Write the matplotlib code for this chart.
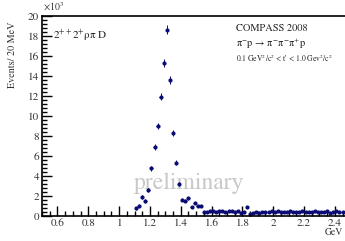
import matplotlib
matplotlib.use("Agg")
import matplotlib.pyplot as plt
from matplotlib.ticker import MultipleLocator

plt.rcParams['font.family'] = ['STIXGeneral', 'DejaVu Serif']
plt.rcParams['mathtext.fontset'] = 'stix'

# bin centres (GeV) and counts (x10^3 events / 20 MeV)
mass_peak = [1.11, 1.13, 1.15, 1.17, 1.19, 1.21, 1.23, 1.25, 1.27, 1.29, 1.31,
             1.33, 1.35, 1.37, 1.39, 1.41, 1.43, 1.45, 1.47, 1.49, 1.51, 1.53, 1.55]
counts_peak = [0.77, 1.0, 1.87, 1.53, 2.6, 4.77, 6.87, 9.0, 11.93, 15.3, 18.6,
               13.6, 8.3, 5.33, 3.2, 1.6, 1.5, 1.77, 0.87, 1.27, 1.0, 0.97, 0.43]
err_peak = [0.15, 0.15, 0.2, 0.2, 0.2, 0.25, 0.3, 0.3, 0.35, 0.4, 0.45,
            0.4, 0.3, 0.25, 0.2, 0.15, 0.15, 0.15, 0.12, 0.12, 0.1, 0.1, 0.1]

mass_tail = [1.57, 1.59, 1.61, 1.63, 1.65, 1.67, 1.69, 1.71, 1.73, 1.75, 1.77,
             1.79, 1.81, 1.83, 1.85, 1.87, 1.89, 1.91, 1.93, 1.95, 1.97, 1.99,
             2.01, 2.03, 2.05, 2.07, 2.09, 2.11, 2.13, 2.15, 2.17, 2.19, 2.21,
             2.23, 2.25, 2.27, 2.29, 2.31, 2.33, 2.35, 2.37, 2.39, 2.41, 2.43, 2.45]
counts_tail = [0.35, 0.45, 0.5, 0.4, 0.45, 0.5, 0.4, 0.45, 0.5, 0.4, 0.45,
               0.3, 0.4, 0.85, 0.15, 0.3, 0.35, 0.3, 0.4, 0.35, 0.4, 0.45,
               0.4, 0.45, 0.4, 0.35, 0.4, 0.45, 0.4, 0.35, 0.4, 0.45, 0.4,
               0.35, 0.4, 0.45, 0.4, 0.35, 0.4, 0.45, 0.3, 0.4, 0.45, 0.35, 0.4]
err_tail = [0.06] * len(mass_tail)

mass = mass_peak + mass_tail
counts = counts_peak + counts_tail
errs = err_peak + err_tail
half_bin = 0.008

navy = '#0b0b75'

fig = plt.figure(figsize=(3.45, 2.41), dpi=100)
ax = fig.add_axes([0.122, 0.104, 0.878, 0.830])

ax.errorbar(mass, counts, yerr=errs, xerr=half_bin, fmt='o', ms=2.0,
            color=navy, mec=navy, mfc=navy, elinewidth=0.7, capsize=0)

ax.set_xlim(0.5, 2.466)
ax.set_ylim(0, 20)

for s in ['left', 'bottom', 'top']:
    ax.spines[s].set_linewidth(1.2)
ax.spines['right'].set_visible(False)

ax.xaxis.set_major_locator(MultipleLocator(0.2))
ax.xaxis.set_minor_locator(MultipleLocator(0.05))
ax.yaxis.set_major_locator(MultipleLocator(2))
ax.yaxis.set_minor_locator(MultipleLocator(0.4))
ax.tick_params(which='both', direction='in', top=False, right=False,
               labelsize=8, labelcolor='#333333', width=1.0)
ax.tick_params(which='major', length=7, pad=2)
ax.tick_params(which='minor', length=3.5)
ax.set_xticks([0.6, 0.8, 1.0, 1.2, 1.4, 1.6, 1.8, 2.0, 2.2, 2.4])
ax.set_xticklabels(['0.6', '0.8', '1', '1.2', '1.4', '1.6', '1.8', '2', '2.2', '2.4'])
ax.set_yticks(range(0, 21, 2))
ax.set_yticklabels([str(v) for v in range(0, 21, 2)])

fig.text(0.035, 0.91, 'Events/ 20 MeV', rotation=90, ha='center', va='top',
         fontsize=7.3, color='#333333')
fig.text(0.125, 0.945, r'$\times$10$^{3}$', ha='left', va='bottom',
         fontsize=7, color='#333333')
fig.text(0.995, 0.015, 'GeV', ha='right', va='bottom', fontsize=7, color='#333333')

ax.text(0.035, 0.94, r'2$^{++}$2$^{+}$ρπ D', transform=ax.transAxes,
        ha='left', va='top', fontsize=8, color='#222222')
ax.text(0.64, 0.965, 'COMPASS 2008', transform=ax.transAxes,
        ha='left', va='top', fontsize=7.5, color='#222222')
ax.text(0.64, 0.895, r'π$^{-}$p → π$^{-}$π$^{-}$π$^{+}$p', transform=ax.transAxes,
        ha='left', va='top', fontsize=7.5, color='#222222')
ax.text(0.64, 0.82, r"0.1 GeV$^{2}$/c$^{2}$ < t' < 1.0 Gev$^{2}$/c$^{2}$",
        transform=ax.transAxes, ha='left', va='top', fontsize=5.5, color='#222222')

ax.text(0.485, 0.165, 'preliminary', transform=ax.transAxes, ha='center',
        va='center', fontsize=17, color='#c8c8c8', zorder=0)

fig.savefig('out.png', dpi=100)
